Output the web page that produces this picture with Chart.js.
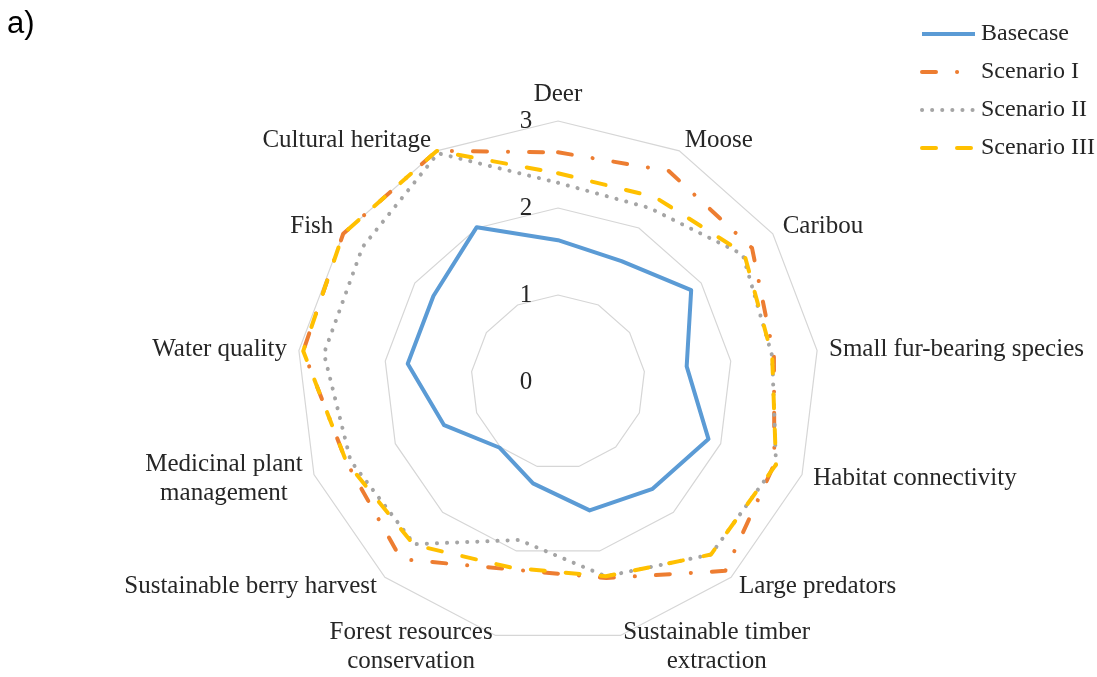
<!DOCTYPE html>
<html><head><meta charset="utf-8">
<script src="https://cdn.jsdelivr.net/npm/chart.js@4.4.1/dist/chart.umd.min.js"></script>
<style>html,body{margin:0;padding:0;background:#fff;}canvas{display:block;}</style>
</head><body>
<canvas id="c" width="1097" height="677"></canvas>
<script>
// ---- data ----
const categories = [
  'Deer', 'Moose', 'Caribou', 'Small fur-bearing species', 'Habitat connectivity',
  'Large predators', ['Sustainable timber', 'extraction'], ['Forest resources', 'conservation'],
  'Sustainable berry harvest', ['Medicinal plant', 'management'], 'Water quality', 'Fish', 'Cultural heritage'
];
const seriesNames = ['Basecase', 'Scenario I', 'Scenario II', 'Scenario III'];
const basecase  = [1.63, 1.57, 1.86, 1.49, 1.85, 1.64, 1.52, 1.20, 1.01, 1.40, 1.74, 1.74, 2.01];
const scenario1 = [2.64, 2.74, 2.71, 2.50, 2.66, 2.90, 2.32, 2.22, 2.72, 2.60, 2.95, 3.00, 3.00];
const scenario2 = [2.29, 2.26, 2.58, 2.48, 2.68, 2.65, 2.30, 1.87, 2.49, 2.55, 2.71, 2.73, 2.97];
const scenario3 = [2.40, 2.40, 2.60, 2.48, 2.68, 2.65, 2.30, 2.20, 2.50, 2.60, 2.95, 3.00, 3.00];
const tickValues = [0, 1, 2, 3];
const panelLabel = 'a)';

// ---- styles ----
const SERIF = '"Liberation Serif", "Times New Roman", serif';
const TEXT = '#262626';

const overlay = {
  id: 'overlay',
  afterDraw(chart) {
    const s = chart.scales.r, ctx = chart.ctx;
    ctx.save();
    ctx.fillStyle = TEXT;
    ctx.textBaseline = 'middle';
    ctx.font = '25px ' + SERIF;
    // tick labels
    ctx.textAlign = 'center';
    tickValues.forEach(v => {
      ctx.fillText(String(v), s.xCenter - 32, s.yCenter - s.getDistanceFromCenterForValue(v));
    });
    // category labels
    const lh = 29;
    categories.forEach((lab, i) => {
      const lines = Array.isArray(lab) ? lab : [lab];
      const p = s.getPointPosition(i, s.drawingArea + 12);
      const dx = p.x - s.xCenter, dy = p.y - s.yCenter;
      const w = Math.max(...lines.map(l => ctx.measureText(l).width));
      const bh = lines.length * lh;
      let cx, cy = p.y;
      if (Math.abs(dx) < 1) { cx = p.x; cy = dy < 0 ? p.y - bh / 2 : p.y + bh / 2; }
      else if (dx > 0) cx = p.x + w / 2;
      else cx = p.x - w / 2;
      lines.forEach((l, k) => ctx.fillText(l, cx, cy - (lines.length - 1) * lh / 2 + k * lh));
    });
    // legend
    ctx.font = '24px ' + SERIF;
    ctx.textAlign = 'left';
    chart.data.datasets.forEach((ds, i) => {
      const y = 34 + i * 38;
      ctx.save();
      ctx.strokeStyle = ds.borderColor;
      ctx.lineWidth = ds.borderWidth;
      ctx.lineCap = ds.borderCapStyle || 'butt';
      ctx.setLineDash(ds.borderDash || []);
      ctx.beginPath();
      ctx.moveTo(922, y); ctx.lineTo(975, y);
      ctx.stroke();
      ctx.restore();
      ctx.fillText(ds.label, 981, y);
    });
    // panel label
    ctx.font = '31px "Liberation Sans", Arial, sans-serif';
    ctx.fillStyle = '#000';
    ctx.textBaseline = 'alphabetic';
    ctx.fillText(panelLabel, 7, 33);
    ctx.restore();
  }
};

new Chart(document.getElementById('c'), {
  type: 'radar',
  data: {
    labels: categories,
    datasets: [
      { label: seriesNames[0], data: basecase, borderColor: '#5B9BD5', borderWidth: 4, borderCapStyle: 'butt', order: 4 },
      { label: seriesNames[1], data: scenario1, borderColor: '#ED7D31', borderWidth: 4, borderCapStyle: 'round', borderDash: [14, 21, 0.1, 21], order: 3 },
      { label: seriesNames[2], data: scenario2, borderColor: '#A5A5A5', borderWidth: 4, borderCapStyle: 'round', borderDash: [0.1, 10], order: 2 },
      { label: seriesNames[3], data: scenario3, borderColor: '#FFC000', borderWidth: 4, borderCapStyle: 'round', borderDash: [14, 21], order: 1 }
    ].map(d => Object.assign({ fill: false, tension: 0, pointRadius: 0, pointHoverRadius: 0, borderJoinStyle: 'round' }, d))
  },
  options: {
    responsive: false,
    animation: false,
    layout: { padding: { left: 297, right: 278, top: 121, bottom: 34 } },
    plugins: { legend: { display: false }, tooltip: { enabled: false }, title: { display: false } },
    scales: {
      r: {
        min: 0, max: 3,
        ticks: { stepSize: 1, display: false },
        grid: { color: '#D6D6D6', lineWidth: 1.2 },
        angleLines: { display: false },
        pointLabels: { display: false }
      }
    }
  },
  plugins: [overlay]
});
</script>
</body></html>
